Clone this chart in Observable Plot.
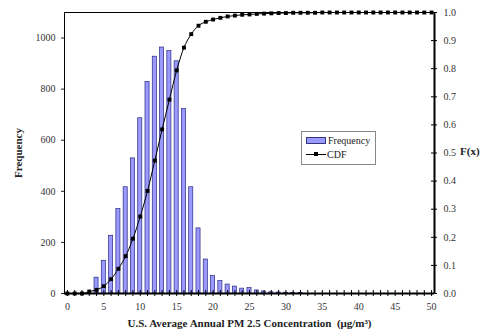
<!DOCTYPE html>
<html>
<head>
<meta charset="utf-8">
<script src="https://cdn.jsdelivr.net/npm/d3@7"></script>
<script src="https://cdn.jsdelivr.net/npm/@observablehq/plot@0.6"></script>
<style>
  html, body { margin: 0; padding: 0; background: #fff; }
  #wrap { position: relative; width: 495px; height: 332px; }
  #legend {
    position: absolute; left: 301px; top: 131px; width: 73px; height: 32px;
    border: 1px solid #888; background: #fff;
    font-family: "Liberation Serif", "Times New Roman", serif; font-size: 10px; color: #222;
  }
  #legend .row { position: absolute; left: 4px; display: flex; align-items: center; }
  #legend .sw { width: 18px; height: 5px; background: #9999ff; border: 1px solid #33337f; margin-right: 2px; }
  #legend .ln { position: relative; width: 20px; height: 1px; background: #000; margin-right: 1px; }
  #legend .ln::after { content: ""; position: absolute; left: 8px; top: -2px; width: 4px; height: 4px; background: #000; }
</style>
</head>
<body>
<div id="wrap">
  <div id="chart"></div>
  <div id="legend">
    <div class="row" style="top:3px"><div class="sw"></div><span>Frequency</span></div>
    <div class="row" style="top:17px"><div class="ln"></div><span>CDF</span></div>
  </div>
</div>
<script>
// Concentration bins (µg/m³)
const concentration = d3.range(0, 51);
// Frequency per bin
const frequency = [0, 0, 0, 0, 62, 128, 226, 331, 416, 529, 686, 828, 927, 963, 949, 909, 722, 416, 255, 133,
  68, 49, 35, 27, 19, 21, 12, 8, 5, 4, 3, 2, 2, 0, 0, 0, 0, 0, 0, 0, 0, 0, 0, 0, 0, 0, 0, 0, 0, 0, 0];
// Cumulative distribution F(x)
const cdf = [0, 0, 0, 0.007, 0.013, 0.026, 0.051, 0.088, 0.133, 0.195, 0.274, 0.365, 0.473, 0.584, 0.69, 0.794,
  0.875, 0.923, 0.953, 0.967, 0.975, 0.981, 0.986, 0.989, 0.992, 0.993, 0.995, 0.996, 0.997, 0.998, 0.998,
  0.999, 0.999, 0.999, 0.999, 1, 1, 1, 1, 1, 1, 1, 1, 1, 1, 1, 1, 1, 1, 1, 1];
const xTicks = [0, 5, 10, 15, 20, 25, 30, 35, 40, 45, 50];
const yTicks = [0, 200, 400, 600, 800, 1000];
const fTicks = [0, 0.1, 0.2, 0.3, 0.4, 0.5, 0.6, 0.7, 0.8, 0.9, 1.0];

const xMin = -0.4, xMax = 50.4, yMax = 1100;
const data = concentration.map((c, i) => ({c, f: frequency[i], p: cdf[i]}));

const font = "Liberation Serif, Times New Roman, serif";
const chart = Plot.plot({
  width: 495, height: 332,
  marginTop: 12, marginBottom: 39, marginLeft: 64, marginRight: 61,
  style: {fontFamily: font, fontSize: "10px", color: "#222", background: "#fff"},
  x: {domain: [xMin, xMax]},
  y: {domain: [0, yMax]},
  marks: [
    Plot.rectY(data.filter(d => d.f > 0), {x1: d => d.c - 0.5, x2: d => d.c + 0.5, y: "f",
      insetLeft: 1.6, insetRight: 1.6, fill: "#9999ff", stroke: "#2a2a80", strokeWidth: 0.7}),
    Plot.line(data, {x: "c", y: d => d.p * yMax, stroke: "#000", strokeWidth: 1, curve: "monotone-x"}),
    Plot.dot(data, {x: "c", y: d => d.p * yMax, symbol: "square", r: 2.2, fill: "#000"}),
    Plot.frame({stroke: "#000", strokeWidth: 1}),
    Plot.ruleY([0], {stroke: "#000", strokeWidth: 2}),
    Plot.ruleX([xMax], {stroke: "#000", strokeWidth: 2}),
    // crossing ticks on the x axis (every integer)
    Plot.ruleX(concentration, {x: d => d, y1: 0, y2: 0, insetTop: -3, insetBottom: -3, stroke: "#000", strokeWidth: 1}),
    // crossing ticks on the right axis
    Plot.ruleY(fTicks, {y: d => d * yMax, x1: xMax, x2: xMax, insetLeft: -3, insetRight: -3, stroke: "#000", strokeWidth: 1}),
    Plot.axisX(xTicks, {anchor: "bottom", tickSize: 0, tickPadding: 9, fontSize: 10, fill: "#333",
      label: "U.S. Average Annual PM 2.5 Concentration  (μg/m³)", labelAnchor: "center", labelOffset: 33}),
    Plot.axisY(yTicks, {anchor: "left", tickSize: 3, tickPadding: 6, fill: "#333", tickFormat: d3.format("d"),
      label: "Frequency", labelAnchor: "center", labelOffset: 50}),
    Plot.axisY(fTicks.map(d => d * yMax), {anchor: "right", tickSize: 0, tickPadding: 9, fill: "#333",
      tickFormat: d => (d / yMax).toFixed(1), label: null})
  ]
});
document.getElementById("chart").appendChild(chart);
// style axis labels bold, drop arrows
chart.querySelectorAll("g[aria-label='x-axis label'] text, g[aria-label='y-axis label'] text").forEach(t => {
  t.textContent = t.textContent.replace(/\s*[↑↓→←]\s*/g, "").trim();
  t.setAttribute("font-weight", "bold"); t.setAttribute("font-size", "11"); t.setAttribute("fill", "#222");
});
</script>
<div style="position:absolute; left:460px; top:145px; font-family:'Liberation Serif',serif; font-weight:bold; font-size:11px; color:#222;">F(x)</div>
</body>
</html>
